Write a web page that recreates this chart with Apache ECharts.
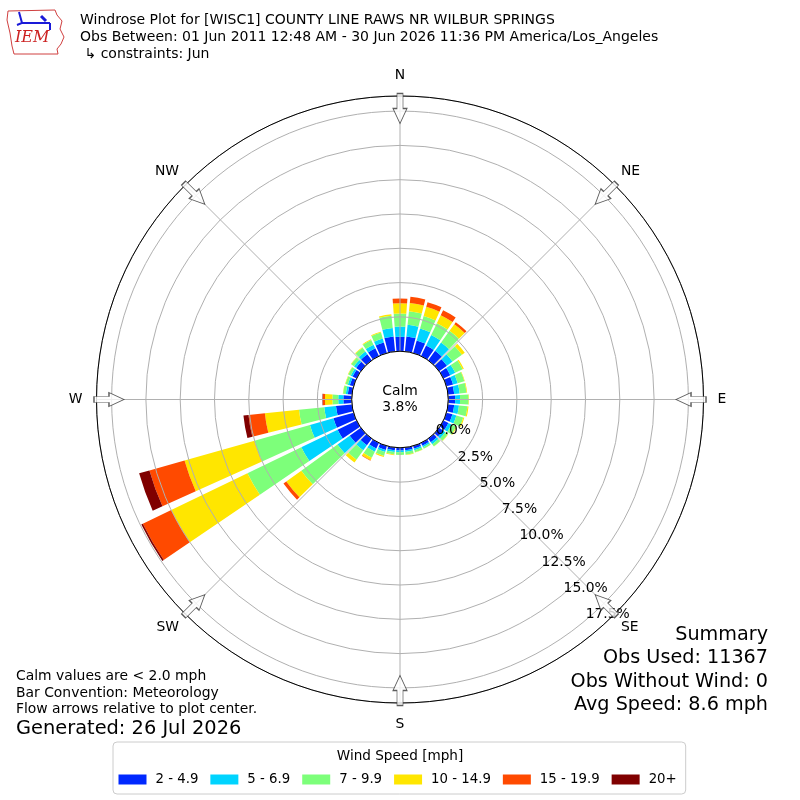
<!DOCTYPE html>
<html><head><meta charset="utf-8">
<script src="https://cdn.jsdelivr.net/npm/echarts@6/dist/echarts.min.js"></script>
<style>html,body{margin:0;padding:0;background:#fff}#c{width:800px;height:800px}</style>
</head><body><div id="c"></div>
<script>
// ---- data ----
const directions = ['0','10','20','30','40','50','60','70','80','90','100','110','120','130','140','150','160','170',
                    '180','190','200','210','220','230','240','250','260','270','280','290','300','310','320','330','340','350'];
const speedBins = ['2 - 4.9','5 - 6.9','7 - 9.9','10 - 14.9','15 - 19.9','20+'];
const binColors = ['#0028ff','#00d4ff','#7dff7a','#ffe600','#ff4a00','#800000'];
const speed2to5   = [1.05,1.10,0.95,0.85,0.85,0.70,0.55,0.50,0.45,0.50,0.45,0.45,0.40,0.35,0.32,0.22,0.20,0.20,
                     0.20,0.20,0.30,0.45,0.60,1.00,1.53,1.52,1.17,0.61,0.30,0.28,0.32,0.42,0.55,0.62,0.80,1.10];
const speed5to7   = [0.75,0.85,0.90,0.85,0.75,0.50,0.40,0.35,0.40,0.36,0.35,0.30,0.25,0.20,0.17,0.12,0.12,0.12,
                     0.12,0.13,0.15,0.25,0.45,1.10,2.94,1.78,0.86,0.37,0.15,0.15,0.15,0.20,0.25,0.30,0.30,0.62];
const speed7to10  = [0.95,1.00,0.95,0.95,1.05,0.85,0.60,0.50,0.50,0.62,0.62,0.52,0.37,0.24,0.20,0.12,0.16,0.20,
                     0.20,0.18,0.30,0.50,0.85,3.25,4.36,4.20,1.85,0.43,0.20,0.18,0.20,0.25,0.33,0.38,0.45,0.90];
const speed10to15 = [0.75,0.60,0.70,0.65,0.60,0.25,0.10,0.04,0.05,0.03,0.08,0.08,0.05,0.03,0.02,0.01,0.02,0.03,
                     0.00,0.05,0.08,0.20,0.25,1.35,6.17,5.30,2.50,0.54,0.02,0.03,0.03,0.03,0.05,0.05,0.06,0.10];
const speed15to20 = [0.35,0.45,0.35,0.40,0.18,0,0,0,0,0,0,0,0,0,0,0,0,0,
                     0,0,0,0.03,0,0.25,2.30,2.66,1.20,0.16,0,0,0,0,0,0,0,0];
const speed20plus = [0,0,0,0,0,0,0,0,0,0,0,0,0,0,0,0,0,0,
                     0,0,0,0,0,0,0.12,0.78,0.37,0.03,0,0,0,0,0,0,0,0];
const binValues = [speed2to5, speed5to7, speed7to10, speed10to15, speed15to20, speed20plus];
const compassNames = ['N','NE','E','SE','S','SW','W','NW'];
const compassAngles = [0,45,90,135,180,225,270,315];
const radiusMax = 18.6;
const radiusStep = 2.5;
const arrowRadius = 17.69;
const calmPercent = '3.8%';

const titleLines = 'Windrose Plot for [WISC1] COUNTY LINE RAWS NR WILBUR SPRINGS\n' +
  'Obs Between: 01 Jun 2011 12:48 AM - 30 Jun 2026 11:36 PM America/Los_Angeles\n' +
  ' \u21b3 constraints: Jun';
const noteLines = 'Calm values are < 2.0 mph\nBar Convention: Meteorology\nFlow arrows relative to plot center.';
const generatedText = 'Generated: 26 Jul 2026';
const summaryLines = 'Summary\nObs Used: 11367\nObs Without Wind: 0\nAvg Speed: 8.6 mph';

// ---- chart ----
const FONT = 'DejaVu Sans';
const chart = echarts.init(document.getElementById('c'), null, {renderer: 'canvas'});
const center = [400, 399.5];
const radius = [48.3, 303.5];

const barSeries = speedBins.map((name, i) => ({
  type: 'bar', name: name, coordinateSystem: 'polar', polarIndex: 0, stack: 'wind',
  data: binValues[i], barCategoryGap: '16%', itemStyle: {color: binColors[i]}, z: 2, silent: true
}));

const arrowSeries = {
  type: 'scatter', name: 'arrows', coordinateSystem: 'polar', polarIndex: 1, clip: false, silent: true,
  symbol: 'path://M4,0 L10,0 L10,15 L14,15 L7,30 L0,15 L4,15 Z', symbolSize: [14, 30],
  itemStyle: {color: '#ffffff', borderColor: '#333333', borderWidth: 1},
  data: compassAngles.map(a => ({value: [arrowRadius, a], symbolRotate: -a})), z: 10
};

const option = {
  animation: false,
  backgroundColor: '#ffffff',
  textStyle: {fontFamily: FONT, color: '#000'},
  title: [
    {text: titleLines, left: 80, top: 11.5, padding: 0,
     textStyle: {fontSize: 14, fontWeight: 'normal', lineHeight: 17, color: '#000', fontFamily: FONT}},
    {text: 'Calm\n' + calmPercent, left: 400, top: 383, textAlign: 'center', padding: 0,
     textStyle: {fontSize: 13.9, fontWeight: 'normal', lineHeight: 16, color: '#000', fontFamily: FONT}},
    {text: noteLines, left: 16, top: 668.5, padding: 0,
     textStyle: {fontSize: 13.9, fontWeight: 'normal', lineHeight: 16.5, color: '#000', fontFamily: FONT}},
    {text: generatedText, left: 16, top: 717.5, padding: 0,
     textStyle: {fontSize: 19.4, fontWeight: 'normal', lineHeight: 23, color: '#000', fontFamily: FONT}},
    {text: summaryLines, left: 768, top: 623.5, textAlign: 'right', padding: 0,
     textStyle: {fontSize: 19.2, fontWeight: 'normal', lineHeight: 23.3, color: '#000', fontFamily: FONT}},
    {text: 'Wind Speed [mph]', left: 400, top: 747.5, textAlign: 'center', padding: 0,
     textStyle: {fontSize: 13.6, fontWeight: 'normal', lineHeight: 17, color: '#000', fontFamily: FONT}}
  ],
  legend: {
    data: speedBins, left: 113, top: 742, orient: 'horizontal', icon: 'rect',
    itemWidth: 28, itemHeight: 10, itemGap: 12, selectedMode: false,
    padding: [31, 9, 8, 5.5], borderColor: '#cccccc', borderWidth: 1, borderRadius: 4,
    textStyle: {fontSize: 13.3, fontFamily: FONT, color: '#000', padding: [0, 0, 0, 4]}
  },
  polar: [
    {center: center, radius: radius},
    {center: center, radius: radius},
    {center: center, radius: radius}
  ],
  angleAxis: [
    {polarIndex: 0, type: 'category', data: directions, startAngle: 95, clockwise: true, show: false},
    {polarIndex: 1, type: 'value', min: 0, max: 360, interval: 45, startAngle: 90, clockwise: true, z: 3,
     axisLine: {show: true, lineStyle: {color: '#000', width: 1}},
     axisTick: {show: false},
     splitLine: {show: true, lineStyle: {color: '#b0b0b0', width: 1}},
     axisLabel: {show: true, margin: 9, color: '#000', fontSize: 13.9, fontFamily: FONT,
       formatter: function (v) {
         const idx = compassAngles.indexOf(v);
         if (idx < 0) return '';
         return (v % 90 === 0 ? '{ax|' : '{dg|') + compassNames[idx] + '}';
       },
       rich: {ax: {padding: [5, 5, 5, 5], fontSize: 13.9, fontFamily: FONT, color: '#000'},
              dg: {padding: [0, 0, 0, 0], fontSize: 13.9, fontFamily: FONT, color: '#000'}}}
    },
    {polarIndex: 2, type: 'value', min: 0, max: 360, startAngle: -50, clockwise: true, show: false}
  ],
  radiusAxis: [
    {polarIndex: 0, type: 'value', min: 0, max: radiusMax, show: false},
    {polarIndex: 1, type: 'value', min: 0, max: radiusMax, interval: radiusStep, z: 3,
     axisLine: {show: false}, axisTick: {show: false}, axisLabel: {show: false},
     splitLine: {show: true, lineStyle: {color: '#b0b0b0', width: 1}}},
    {polarIndex: 2, type: 'value', min: 0, max: radiusMax, interval: radiusStep, z: 6,
     axisLine: {show: false}, axisTick: {show: false}, splitLine: {show: false},
     axisLabel: {show: true, margin: 20, align: 'center', verticalAlign: 'middle',
       color: '#000', fontSize: 13.9, fontFamily: FONT,
       formatter: function (v) {
         const k = v / radiusStep;
         if (Math.abs(k - Math.round(k)) > 1e-6) return '';
         return '{p|' + v.toFixed(1) + '%}';
       },
       rich: {p: {padding: [14, 0, 0, 14], fontSize: 13.9, fontFamily: FONT, color: '#000'}}}}
  ],
  graphic: [
    {type: 'polygon', silent: true,
     shape: {points: [[8,11],[55,10],[57,15],[62,21],[60,29],[64,37],[61,44],[57,49],[58,54],[14,54],[12,46],[10,33],[7,20]]},
     style: {fill: 'none', stroke: '#d04040', lineWidth: 1}},
    {type: 'polyline', silent: true, shape: {points: [[22,23],[50,23]]}, style: {stroke: '#1a1ad8', lineWidth: 2}},
    {type: 'polyline', silent: true, shape: {points: [[19,12],[22,23],[17,25]]}, style: {stroke: '#1a1ad8', lineWidth: 2, fill: 'none'}},
    {type: 'polyline', silent: true, shape: {points: [[41,16],[46,21]]}, style: {stroke: '#1a1ad8', lineWidth: 3}},
    {type: 'polyline', silent: true, shape: {points: [[50,23],[50,30]]}, style: {stroke: '#1a1ad8', lineWidth: 2}},
    {type: 'text', silent: true, x: 15, y: 30, style: {text: 'IEM', font: 'italic 16px "DejaVu Serif"', fill: '#cc2222'}}
  ],
  series: barSeries.concat([arrowSeries])
};
chart.setOption(option);
</script>
</body></html>
